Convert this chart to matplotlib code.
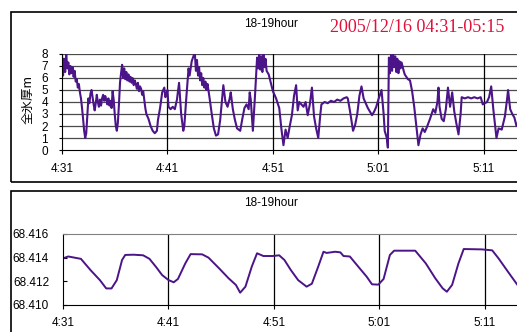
import matplotlib
matplotlib.use("Agg")
import matplotlib.pyplot as plt
from matplotlib.patches import Rectangle

# minutes after 4:31, full ice thickness (m)
ice_t = [0.0, 0.1, 0.2, 0.3, 0.4, 0.5, 0.6, 0.7, 0.8, 0.9, 1.0, 1.1, 1.2, 1.3, 1.4, 1.5,
         1.6, 1.7, 1.8, 1.9, 2.0, 2.1, 2.2, 2.3, 2.4, 2.5, 2.6, 2.7, 2.8, 2.9, 3.0, 3.1,
         3.2, 3.3, 3.4, 3.5, 3.6, 3.7, 3.8, 3.9, 4.0, 4.1, 4.2, 4.3, 4.4, 4.5, 4.6, 4.7,
         4.8, 4.9, 5.0, 5.1, 5.2, 5.3, 5.4, 5.5, 5.6, 5.7, 5.8, 5.9, 6.0, 6.1, 6.2, 6.3,
         6.4, 6.5, 6.6, 6.7, 6.8, 6.9, 7.0, 7.1, 7.2, 7.3, 7.4, 7.5, 7.6, 7.7, 7.8, 7.9,
         8.0, 8.2, 8.4, 8.6, 8.8, 9.0, 9.1, 9.3, 9.5, 9.7, 9.8, 9.9, 10.0, 10.1, 10.3, 10.5,
         10.7, 10.9, 11.1, 11.2, 11.3, 11.5, 11.6, 11.8, 12.0, 12.1, 12.3, 12.5, 12.6, 12.7,
         12.8, 12.9, 13.0, 13.1, 13.2, 13.3, 13.4, 13.5, 13.6, 13.7, 13.8, 14.0, 14.2, 14.4,
         14.6, 14.8, 15.0, 15.2, 15.3, 15.5, 15.7, 15.9, 16.0, 16.2, 16.4, 16.6, 16.9, 17.1,
         17.3, 17.5, 17.7, 17.8, 17.9, 18.1, 18.3, 18.5, 18.6, 18.7, 18.8, 18.9, 19.0, 19.1,
         19.2, 19.3, 19.4, 19.6, 19.8, 20.0, 20.3, 20.6, 20.8, 21.0, 21.2, 21.4, 21.6, 21.8,
         22.0, 22.2, 22.35, 22.5, 22.7, 22.9, 23.1, 23.3, 23.5, 23.7, 23.9, 24.1, 24.3, 24.5,
         24.6, 24.9, 25.2, 25.5, 25.8, 26.1, 26.4, 26.7, 27.0, 27.1, 27.3, 27.5, 27.6, 27.8,
         28.0, 28.2, 28.4, 28.6, 28.8, 29.0, 29.2, 29.4, 29.6, 29.8, 30.0, 30.3, 30.5, 30.6,
         30.8, 30.9, 31.0, 31.1, 31.2, 31.3, 31.4, 31.5, 31.6, 31.7, 31.8, 31.9, 32.0, 32.1,
         32.2, 32.4, 32.5, 32.8, 33.0, 33.2, 33.4, 33.6, 33.8, 34.0, 34.2, 34.4, 34.6, 34.9,
         35.2, 35.4, 35.6, 35.7, 35.8, 36.0, 36.2, 36.4, 36.6, 36.8, 37.0, 37.2, 37.4, 37.6,
         37.8, 37.9, 38.2, 38.5, 38.8, 39.1, 39.4, 39.7, 39.9, 40.1, 40.3, 40.5, 40.7, 40.9,
         41.2, 41.4, 41.7, 42.0, 42.2, 42.3, 42.5, 42.7, 42.9, 43.1, 43.4, 43.7, 44.0]
ice_v = [7.9, 6.2, 7.6, 6.5, 8.0, 6.8, 7.3, 6.3, 7.0, 6.4, 6.9, 6.1, 6.6, 5.7, 5.9, 5.2,
         5.5, 4.8, 4.3, 3.5, 2.6, 1.6, 1.0, 1.4, 2.8, 4.3, 3.9, 4.7, 5.0, 4.4, 3.8, 3.3,
         3.9, 4.6, 4.0, 3.6, 4.2, 3.7, 4.3, 4.6, 4.1, 4.5, 4.2, 3.8, 4.3, 3.7, 4.1, 3.5,
         4.9, 4.2, 3.0, 2.0, 1.6, 2.3, 3.8, 5.6, 6.4, 7.1, 6.0, 6.8, 5.9, 6.5, 5.8, 6.3,
         5.7, 6.1, 5.6, 6.0, 5.4, 5.8, 5.5, 5.1, 5.6, 4.9, 5.3, 5.1, 4.6, 4.9, 4.2, 3.5,
         3.0, 2.6, 2.0, 1.6, 1.4, 1.6, 2.5, 3.5, 4.8, 5.2, 4.4, 4.6, 5.0, 3.6, 3.4, 3.6,
         3.4, 4.2, 5.6, 4.3, 3.0, 1.6, 2.0, 4.5, 6.8, 6.2, 7.4, 7.9, 8.0, 6.6,
         7.5, 6.2, 6.9, 5.8, 6.4, 5.4, 6.0, 5.2, 5.7, 5.0, 5.5, 4.3, 3.0, 1.8,
         1.2, 1.3, 2.5, 4.4, 5.4, 4.0, 3.6, 4.3, 4.8, 3.4, 2.5, 1.8, 1.6, 2.6,
         3.5, 3.8, 3.4, 4.8, 4.2, 1.6, 4.5, 7.7, 6.8, 8.0, 6.7, 7.8, 6.5, 8.0,
         6.9, 7.6, 6.6, 6.3, 5.6, 4.9, 4.3, 3.5, 1.8, 0.4, 1.7, 1.0, 2.0, 2.9,
         4.5, 5.4, 3.3, 4.0, 3.8, 3.6, 4.0, 2.9, 3.8, 5.2, 2.8, 1.8, 1.0, 3.0,
         3.8, 4.0, 3.9, 4.1, 4.0, 4.2, 4.1, 4.3, 4.4, 4.3, 3.3, 2.2, 1.6, 2.1,
         3.0, 4.5, 5.3, 4.3, 3.9, 3.5, 3.2, 2.9, 3.2, 3.6, 4.2, 5.0, 3.0, 1.6,
         1.0, 0.2, 7.7, 6.4, 7.9, 6.6, 8.0, 6.9, 7.8, 6.5, 7.6, 6.4, 7.4, 6.8,
         7.3, 6.6, 6.3, 5.9, 5.8, 4.9, 3.6, 2.0, 0.4, 1.3, 1.8, 1.5, 1.9, 2.6,
         3.4, 3.1, 4.0, 5.2, 3.6, 2.6, 2.4, 3.4, 5.2, 3.6, 4.8, 3.2, 2.2, 1.3,
         3.0, 4.4, 4.3, 4.4, 4.3, 4.4, 4.3, 4.4, 3.8, 3.9, 4.0, 4.4, 5.3, 3.4,
         1.0, 1.8, 1.7, 2.8, 4.2, 5.0, 3.4, 3.0, 2.7, 2.0, 2.6, 3.0, 3.2]

# minutes after 4:31, second series
pos_t = [0.0, 0.5, 1.7, 2.6, 3.5, 4.1, 4.6, 5.1, 5.6, 5.9, 6.7, 7.6, 8.2, 8.8, 9.4, 10.0,
         10.5, 10.9, 11.6, 12.1, 13.2, 13.8, 14.8, 15.7, 16.4, 16.8, 17.3, 17.9, 18.4, 19.0,
         19.9, 20.5, 21.0, 21.6, 22.3, 23.1, 23.6, 24.2, 24.7, 25.0, 25.8, 26.3, 26.6, 27.2,
         28.0, 28.8, 29.3, 29.9, 30.4, 31.0, 31.4, 33.4, 34.4, 35.3, 36.0, 36.4, 36.9, 37.5,
         38.0, 39.7, 40.7, 41.3, 42.3, 43.1, 44.0]
pos_v = [68.41394, 68.41410, 68.41390, 68.41296, 68.41210, 68.41140, 68.41140, 68.41210,
         68.41380, 68.41423, 68.41425, 68.41420, 68.41390, 68.41324, 68.41253, 68.41211,
         68.41192, 68.41220, 68.41352, 68.41430, 68.41428, 68.41400, 68.41310, 68.41226,
         68.41169, 68.41104, 68.41155, 68.41324, 68.41437, 68.41414, 68.41414, 68.41420,
         68.41380, 68.41296, 68.41210, 68.41155, 68.41180, 68.41324, 68.41450, 68.41440,
         68.41450, 68.41445, 68.41414, 68.41410, 68.41324, 68.41239, 68.41175, 68.41172,
         68.41220, 68.41423, 68.41459, 68.41459, 68.41352, 68.41226, 68.41141, 68.41112,
         68.41170, 68.41352, 68.41473, 68.41470, 68.41462, 68.41394, 68.41268, 68.41169,
         68.41110]

xticks = [0, 10, 20, 30, 40]
xlabels = ["4:31", "4:41", "4:51", "5:01", "5:11"]
ice_ticks = [0, 1, 2, 3, 4, 5, 6, 7, 8]
pos_ticks = [68.410, 68.412, 68.414, 68.416]

W, H = 517, 332
line_col = "#4b1488"
plt.rcParams["font.family"] = ["Liberation Sans", "DejaVu Sans"]

fig = plt.figure(figsize=(W / 100, H / 100), dpi=100)

def px(x0, y0, x1, y1):
    # pixel box (top-left origin) -> figure fraction
    return [x0 / W, 1 - y1 / H, (x1 - x0) / W, (y1 - y0) / H]

# outer frames of the two chart panels
fig.patches.append(Rectangle((11 / W, 1 - 182 / H), 600 / W, 170 / H, transform=fig.transFigure,
                             fill=False, ec="black", lw=1.2))
fig.patches.append(Rectangle((11 / W, -0.1), 600 / W, 1 - 191 / H + 0.1, transform=fig.transFigure,
                             fill=False, ec="black", lw=1.2))

# top panel
ax1 = fig.add_axes(px(62, 54, 526, 150))
ax1.plot(ice_t, ice_v, color=line_col, lw=1.5)
ax1.set_xlim(0, 44)
ax1.set_ylim(0, 8)
ax1.set_yticks(ice_ticks)
ax1.set_xticks(xticks)
ax1.set_xticklabels(xlabels)
for v in ice_ticks[1:]:
    ax1.axhline(v, color="#4a4a4a", lw=0.9, zorder=0)
for t in xticks[1:]:
    ax1.axvline(t, color="black", lw=0.9, zorder=0)
ax1.spines["top"].set_visible(False)
ax1.spines["right"].set_visible(False)
ax1.tick_params(axis="y", direction="out", length=2, pad=8, labelsize=8.5)
ax1.tick_params(axis="x", direction="out", length=3, pad=6, labelsize=8.5)

fig.text(271 / W, 1 - 24 / H, "18-19hour", ha="center", va="center", fontsize=8.5)
fig.text(330 / W, 1 - 27 / H, "2005/12/16 04:31-05:15", ha="left", va="center",
         fontsize=13, color="#e0103a", family=["Liberation Serif", "DejaVu Serif"])
fig.text(28 / W, 1 - 100 / H, "全氷厚m", rotation=90, ha="center", va="center", fontsize=9,
         family=["Noto Sans CJK JP", "DejaVu Sans"])

# bottom panel
ax2 = fig.add_axes(px(63, 234, 527, 305))
ax2.plot(pos_t, pos_v, color=line_col, lw=1.4)
ax2.set_xlim(0, 44)
ax2.set_ylim(68.410, 68.416)
ax2.set_yticks(pos_ticks)
ax2.set_yticklabels([f"{v:.3f}" for v in pos_ticks])
ax2.set_xticks(xticks)
ax2.set_xticklabels(xlabels)
for t in xticks[1:]:
    ax2.axvline(t, color="black", lw=0.9, zorder=0)
ax2.spines["top"].set_color("#808080")
ax2.spines["right"].set_visible(False)
ax2.tick_params(axis="y", direction="in", length=3, pad=10, labelsize=8.5)
ax2.tick_params(axis="x", direction="out", length=3, pad=6, labelsize=8.5)

fig.text(271 / W, 1 - 203 / H, "18-19hour", ha="center", va="center", fontsize=8.5)

fig.savefig("out.png", dpi=100)
